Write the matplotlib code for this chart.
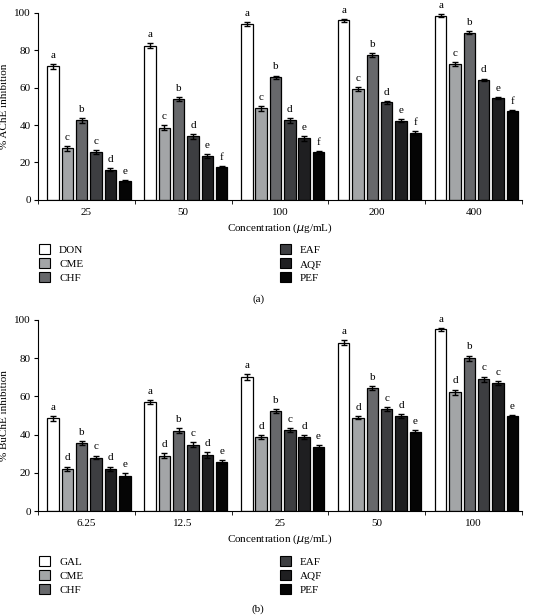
import numpy as np
import matplotlib
matplotlib.use("Agg")
import matplotlib.pyplot as plt
from matplotlib.patches import Patch

plt.rcParams['font.family'] = ['Liberation Serif', 'DejaVu Serif']
plt.rcParams['font.size'] = 8

# (a) AChE inhibition
conc_a = ['25', '50', '100', '200', '400']
names_a = ['DON', 'CME', 'CHF', 'EAF', 'AQF', 'PEF']
ache_don = [71.5, 82.5, 94.0, 96.0, 98.5]
ache_cme = [27.5, 38.5, 49.0, 59.5, 72.7]
ache_chf = [42.5, 54.0, 65.5, 77.4, 89.5]
ache_eaf = [25.5, 34.0, 42.5, 52.2, 64.2]
ache_aqf = [16.0, 23.5, 33.0, 42.4, 54.4]
ache_pef = [10.0, 17.5, 25.5, 35.6, 47.6]
ache_err = [[1.3, 1.2, 1.0, 0.7, 0.7],
            [1.3, 1.3, 1.2, 1.0, 1.0],
            [1.2, 1.0, 1.0, 1.0, 0.7],
            [1.0, 1.2, 1.2, 0.7, 0.7],
            [0.8, 1.0, 1.3, 0.8, 0.5],
            [0.6, 0.7, 0.8, 1.0, 0.5]]
ache_letters = [['a', 'a', 'a', 'a', 'a'],
                ['c', 'c', 'c', 'c', 'c'],
                ['b', 'b', 'b', 'b', 'b'],
                ['c', 'd', 'd', 'd', 'd'],
                ['d', 'e', 'e', 'e', 'e'],
                ['e', 'f', 'f', 'f', 'f']]

# (b) BuChE inhibition
conc_b = ['6.25', '12.5', '25', '50', '100']
names_b = ['GAL', 'CME', 'CHF', 'EAF', 'AQF', 'PEF']
buche_gal = [48.5, 57.0, 70.0, 88.0, 95.0]
buche_cme = [22.0, 29.0, 38.7, 48.7, 62.0]
buche_chf = [35.5, 42.0, 52.2, 64.5, 80.0]
buche_eaf = [28.0, 34.7, 42.2, 53.4, 69.0]
buche_aqf = [22.0, 29.5, 38.7, 49.7, 66.8]
buche_pef = [18.5, 25.5, 33.5, 41.4, 49.7]
buche_err = [[1.2, 1.0, 1.6, 1.2, 0.7],
             [1.2, 1.5, 1.2, 0.8, 1.5],
             [1.2, 1.3, 1.0, 1.0, 1.3],
             [1.0, 1.2, 1.0, 1.0, 1.3],
             [1.2, 1.5, 1.0, 1.0, 1.0],
             [1.3, 1.0, 0.8, 0.8, 0.4]]
buche_letters = [['a', 'a', 'a', 'a', 'a'],
                 ['d', 'd', 'd', 'd', 'd'],
                 ['b', 'b', 'b', 'b', 'b'],
                 ['c', 'c', 'c', 'c', 'c'],
                 ['d', 'd', 'd', 'd', 'c'],
                 ['e', 'e', 'e', 'e', 'e']]

colors = ['#ffffff', '#a3a5a7', '#67686b', '#3d3e41', '#1f1f21', '#050505']


def draw_panel(fig, rect, conc, names, series, errs, letters, ylabel, tag, tag_y, leg_y):
    ax = fig.add_axes(rect)
    x = np.arange(len(conc))
    pitch = 0.148
    width = 0.118
    offs = (np.arange(len(series)) - 2.5) * pitch + 0.528
    for i, vals in enumerate(series):
        ax.bar(x + offs[i], vals, width, color=colors[i], edgecolor='black',
               linewidth=0.9, yerr=errs[i], capsize=2.2,
               error_kw=dict(elinewidth=1.0, capthick=1.0, ecolor='black'))
        for j, v in enumerate(vals):
            ax.text(x[j] + offs[i], v + errs[i][j] + 2.2, letters[i][j],
                    ha='center', va='bottom', fontsize=8)
    ax.set_xlim(0, len(conc))
    ax.set_ylim(0, 100)
    ax.set_yticks(range(0, 101, 20))
    ax.set_xticks(x + 0.5)
    ax.set_xticklabels(conc)
    ax.set_xticks(np.arange(len(conc) + 1), minor=True)
    ax.tick_params(axis='x', which='major', length=0, pad=6)
    ax.tick_params(axis='x', which='minor', length=3, direction='out')
    ax.tick_params(axis='y', length=3, direction='out', pad=2)
    for s in ['top', 'right']:
        ax.spines[s].set_visible(False)
    ax.spines['left'].set_linewidth(0.8)
    ax.spines['bottom'].set_linewidth(0.8)
    ax.set_ylabel(ylabel, labelpad=4)
    ax.set_xlabel('Concentration ($\\mu$g/mL)', labelpad=3)

    handles = [Patch(facecolor=colors[i], edgecolor='black', linewidth=0.8,
                     label=names[i]) for i in range(len(names))]
    for k, xl in enumerate([0.062, 0.508]):
        fig.legend(handles=handles[3 * k:3 * k + 3], loc='upper left',
                   bbox_to_anchor=(xl, leg_y), frameon=False,
                   handlelength=1.0, handleheight=1.0, handletextpad=0.8,
                   labelspacing=0.3, borderpad=0, fontsize=8)
    fig.text(0.478, tag_y, tag, ha='center', va='center', fontsize=8)
    return ax


fig = plt.figure(figsize=(5.4, 6.15), dpi=100)

draw_panel(fig, [0.070, 0.675, 0.897, 0.304], conc_a, names_a,
           [ache_don, ache_cme, ache_chf, ache_eaf, ache_aqf, ache_pef],
           ache_err, ache_letters, '% AChE inhibition', '(a)', 0.514, 0.612)

draw_panel(fig, [0.070, 0.169, 0.897, 0.311], conc_b, names_b,
           [buche_gal, buche_cme, buche_chf, buche_eaf, buche_aqf, buche_pef],
           buche_err, buche_letters, '% BuChE inhibition', '(b)', 0.010, 0.105)

fig.savefig('out.png', dpi=100)
